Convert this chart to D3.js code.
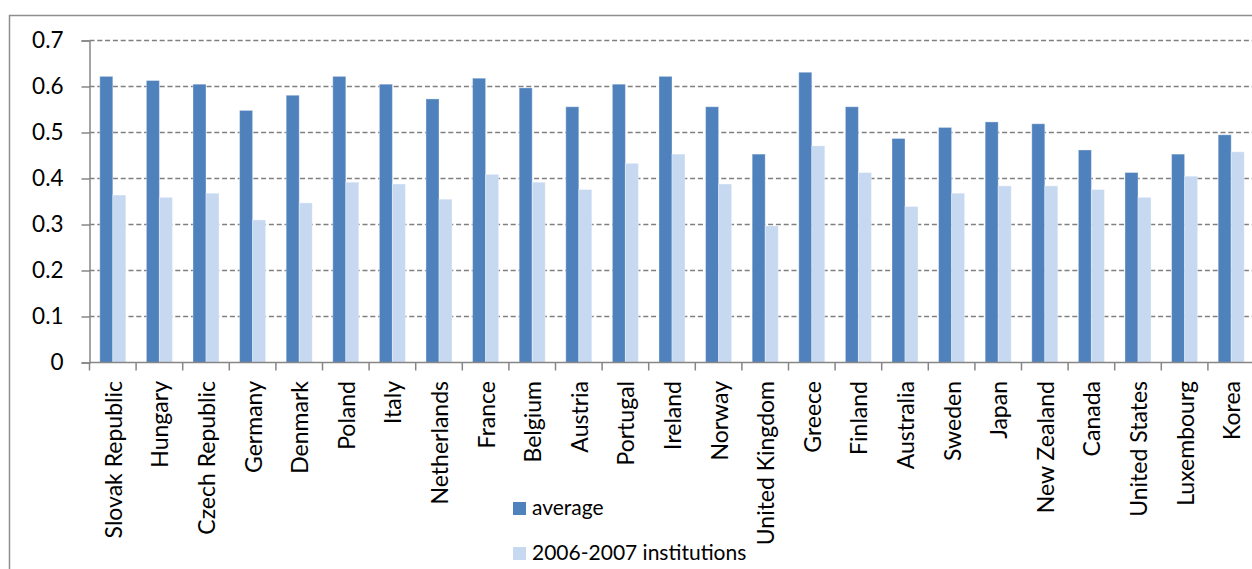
<!DOCTYPE html>
<html>
<head>
<meta charset="utf-8">
<script src="https://cdn.jsdelivr.net/npm/d3@7"></script>
<style>
  html, body { margin: 0; padding: 0; background: #fff; }
  svg { display: block; font-family: Lato, "Open Sans", sans-serif; }
</style>
</head>
<body>
<svg id="chart" width="1252" height="569"></svg>
<script>
// Countries along the category axis
const countries = [
  "Slovak Republic", "Hungary", "Czech Republic", "Germany", "Denmark",
  "Poland", "Italy", "Netherlands", "France", "Belgium", "Austria",
  "Portugal", "Ireland", "Norway", "United Kingdom", "Greece", "Finland",
  "Australia", "Sweden", "Japan", "New Zealand", "Canada", "United States",
  "Luxembourg", "Korea"
];

// Series values
const average = [
  0.622, 0.613, 0.605, 0.548, 0.581, 0.622, 0.605, 0.573, 0.618, 0.597,
  0.556, 0.605, 0.622, 0.556, 0.453, 0.631, 0.556, 0.487, 0.511, 0.523,
  0.519, 0.462, 0.413, 0.453, 0.495
];
const institutions = [
  0.364, 0.359, 0.368, 0.310, 0.347, 0.392, 0.388, 0.355, 0.409, 0.392,
  0.376, 0.433, 0.453, 0.388, 0.297, 0.471, 0.413, 0.339, 0.368, 0.384,
  0.384, 0.376, 0.359, 0.405, 0.458
];

const seriesNames = ["average", "2006-2007 institutions"];
const yTicks = [0, 0.1, 0.2, 0.3, 0.4, 0.5, 0.6, 0.7];

const colors = { "average": "#4F81BD", "2006-2007 institutions": "#C6D9F1" };
const axisColor = "#868686";

const svg = d3.select("#chart");

// Outer chart frame
svg.append("rect")
  .attr("x", 9.5).attr("y", 15.5)
  .attr("width", 1260).attr("height", 600)
  .attr("fill", "#fff")
  .attr("stroke", "#8e8e8e").attr("stroke-width", 1.5);

const plot = { left: 89.5, top: 40.5, bottom: 362.5, step: 46.6 };
plot.right = plot.left + plot.step * countries.length;

const x = d3.scaleBand()
  .domain(countries)
  .range([plot.left, plot.right])
  .padding(0);

const x1 = d3.scaleBand()
  .domain(seriesNames)
  .range([0, x.bandwidth()])
  .paddingInner(0)
  .paddingOuter(0.79);

const y = d3.scaleLinear()
  .domain([0, 0.7])
  .range([plot.bottom, plot.top]);

// Dashed horizontal gridlines
svg.append("g")
  .selectAll("line")
  .data(yTicks.filter(t => t > 0))
  .join("line")
  .attr("x1", plot.left).attr("x2", plot.right)
  .attr("y1", d => y(d)).attr("y2", d => y(d))
  .attr("stroke", "#7f7f7f")
  .attr("stroke-width", 1.7)
  .attr("stroke-dasharray", "5,2.8");

// Bars
const rows = countries.map((c, i) => ({
  country: c,
  values: [
    { key: "average", value: average[i] },
    { key: "2006-2007 institutions", value: institutions[i] }
  ]
}));

svg.append("g")
  .selectAll("g")
  .data(rows)
  .join("g")
  .attr("transform", d => `translate(${x(d.country)},0)`)
  .selectAll("rect")
  .data(d => d.values)
  .join("rect")
  .attr("x", d => x1(d.key))
  .attr("width", x1.bandwidth())
  .attr("y", d => y(d.value))
  .attr("height", d => y(0) - y(d.value))
  .attr("fill", d => colors[d.key])
  .attr("stroke", "#ffffff")
  .attr("stroke-opacity", 0.35)
  .attr("stroke-width", 1);

// Value axis
const yAxis = d3.axisLeft(y)
  .tickValues(yTicks)
  .tickSize(8)
  .tickPadding(18)
  .tickFormat(d => d === 0 ? "0" : d3.format(".1f")(d));

const gy = svg.append("g")
  .attr("transform", `translate(${plot.left},0)`)
  .call(yAxis);
gy.select(".domain").attr("stroke", axisColor).attr("stroke-width", 1.5);
gy.selectAll(".tick line").attr("stroke", axisColor).attr("stroke-width", 1.5);
gy.selectAll(".tick text")
  .attr("fill", "#000")
  .style("font-size", "22.5px")
  .style("font-family", "Lato, sans-serif");

// Category axis: boundary ticks between groups
const boundaries = d3.range(countries.length + 1).map(i => plot.left + i * x.step());
svg.append("line")
  .attr("x1", plot.left).attr("x2", plot.right)
  .attr("y1", plot.bottom).attr("y2", plot.bottom)
  .attr("stroke", axisColor).attr("stroke-width", 1.5);
svg.append("g")
  .selectAll("line")
  .data(boundaries)
  .join("line")
  .attr("x1", d => d).attr("x2", d => d)
  .attr("y1", plot.bottom).attr("y2", plot.bottom + 8)
  .attr("stroke", axisColor).attr("stroke-width", 1.5);

// Rotated country labels
svg.append("g")
  .selectAll("text")
  .data(countries)
  .join("text")
  .attr("transform", d => `translate(${x(d) + x.bandwidth() / 2 + 1},381) rotate(-90)`)
  .attr("text-anchor", "end")
  .attr("dy", "0.35em")
  .style("font-size", "23px")
  .attr("fill", "#000")
  .text(d => d);

// Legend
const legend = svg.append("g")
  .selectAll("g")
  .data(seriesNames)
  .join("g")
  .attr("transform", (d, i) => `translate(513,${502 + i * 45})`);
legend.append("rect")
  .attr("width", 13).attr("height", 13)
  .attr("fill", d => colors[d]);
legend.append("text")
  .attr("x", 19).attr("y", 13)
  .style("font-size", "21px")
  .attr("fill", "#000")
  .text(d => d);
</script>
</body>
</html>
